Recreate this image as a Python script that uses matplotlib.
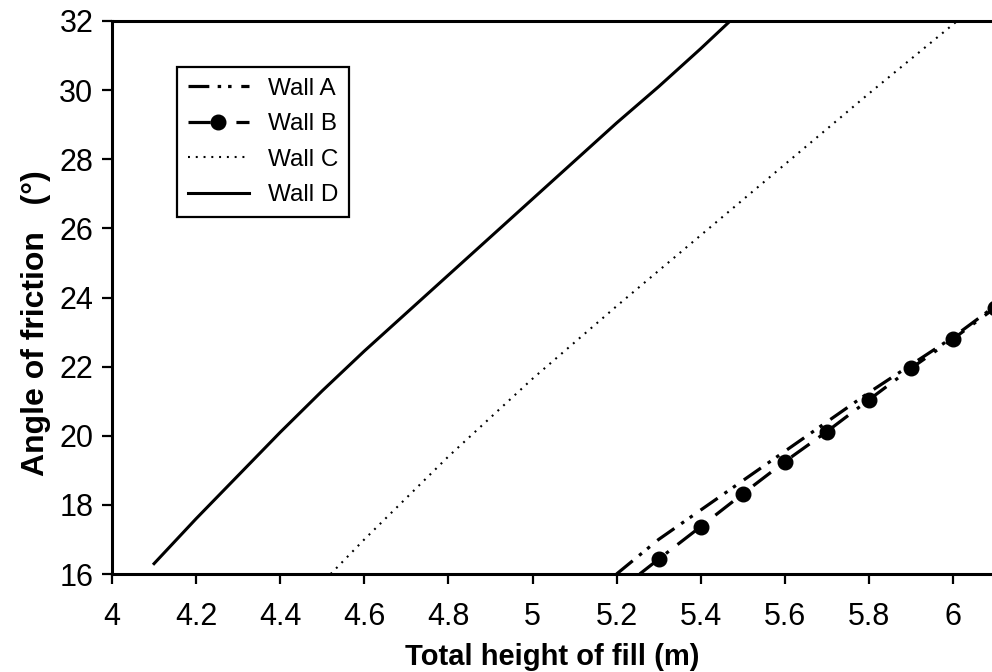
import matplotlib
matplotlib.use("Agg")
import matplotlib.pyplot as plt

plt.rcParams['font.family'] = ['Liberation Sans', 'DejaVu Sans']
plt.rcParams['lines.scale_dashes'] = False

# Data
wall_a_x = [5.2, 5.3, 5.4, 5.5, 5.6, 5.7, 5.8, 5.9, 6.0, 6.1]
wall_a_y = [16.0, 17.0, 17.85, 18.7, 19.55, 20.4, 21.25, 22.05, 22.85, 23.75]

wall_b_x = [5.255, 5.3, 5.4, 5.5, 5.6, 5.7, 5.8, 5.9, 6.0, 6.1]
wall_b_y = [16.0, 16.43, 17.37, 18.32, 19.25, 20.12, 21.04, 21.95, 22.8, 23.7]

wall_c_x = [4.52, 4.6, 4.8, 5.0, 5.2, 5.4, 5.6, 5.8, 6.01]
wall_c_y = [16.0, 17.0, 19.4, 21.65, 23.75, 25.8, 27.85, 29.9, 32.0]

wall_d_x = [4.1, 4.2, 4.3, 4.4, 4.5, 4.6, 4.7, 4.8, 4.9, 5.0, 5.1, 5.2, 5.3, 5.4, 5.47]
wall_d_y = [16.3, 17.6, 18.85, 20.1, 21.3, 22.45, 23.55, 24.65, 25.75, 26.85,
            27.95, 29.05, 30.1, 31.2, 32.0]

x_ticks = [4.0, 4.2, 4.4, 4.6, 4.8, 5.0, 5.2, 5.4, 5.6, 5.8, 6.0]
x_tick_labels = ["4", "4.2", "4.4", "4.6", "4.8", "5", "5.2", "5.4", "5.6", "5.8", "6"]
y_ticks = [16, 18, 20, 22, 24, 26, 28, 30, 32]

fig = plt.figure(figsize=(9.92, 6.72), dpi=100)
ax = fig.add_axes([112/992, 1 - 574/672, (992 - 112)/992, (574 - 21)/672])

ax.plot(wall_a_x, wall_a_y, color='black', lw=2.3,
        ls=(0, (15, 6, 2.5, 5, 2.5, 7)), label='Wall A')
ax.plot(wall_b_x, wall_b_y, color='black', lw=2.3,
        ls=(0, (16, 8, 2.5, 8)), marker='o', markersize=10.5,
        markevery=list(range(1, len(wall_b_x))), label='Wall B')
ax.plot(wall_c_x, wall_c_y, color='black', lw=1.5,
        ls=(0, (1.4, 4.2)), label='Wall C')
ax.plot(wall_d_x, wall_d_y, color='black', lw=2.2, ls='-', label='Wall D')

ax.set_xlim(4.0, 4.0 + (992 - 112) / 420.5)
ax.set_ylim(16, 32)
ax.set_xticks(x_ticks)
ax.set_xticklabels(x_tick_labels)
ax.set_yticks(y_ticks)

for s in ['left', 'bottom', 'top']:
    ax.spines[s].set_linewidth(2.2)
    ax.spines[s].set_color('black')
ax.spines['right'].set_visible(False)

ax.tick_params(axis='both', direction='out', length=7.5, width=1.6,
               labelsize=22, colors='black')
ax.tick_params(axis='x', pad=13)
ax.tick_params(axis='y', pad=6)
ax.tick_params(top=False, right=False)

ax.set_xlabel('Total height of fill (m)', fontsize=21, fontweight='bold')
ax.xaxis.set_label_coords(0.5, -0.124)
ax.set_ylabel('Angle of friction   (°)', fontsize=23, fontweight='bold')
ax.yaxis.set_label_coords(-0.069, 0.453)

leg = ax.legend(loc='upper left', bbox_to_anchor=(65/880, (574 - 67)/553),
                borderaxespad=0, fontsize=17.5, handlelength=2.5,
                handletextpad=0.8, labelspacing=0.55, borderpad=0.45,
                fancybox=False, framealpha=1, edgecolor='black')
leg.get_frame().set_linewidth(1.6)

fig.savefig('out.png', dpi=100)
